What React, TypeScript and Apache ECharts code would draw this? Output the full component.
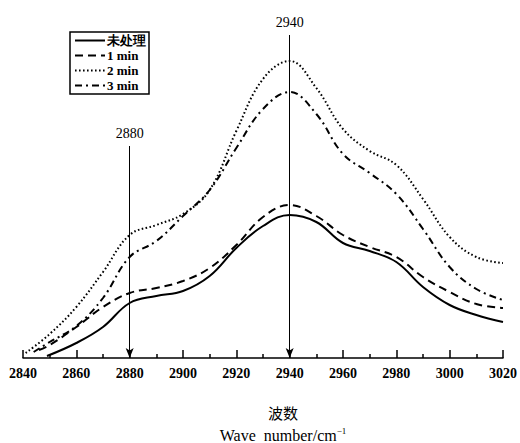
import React, { useEffect, useRef } from "react";
import * as echarts from "echarts";

const seriesNames = ["未处理", "1 min", "2 min", "3 min"];

const untreatedX = [2849, 2860, 2870, 2880, 2890, 2900, 2910, 2920, 2930, 2940, 2950, 2960, 2970, 2980, 2990, 3000, 3010, 3020];
const untreatedY = [2, 15, 31, 55, 62, 67, 82, 110, 132, 143, 136, 115, 107, 96, 71, 53, 43, 36];

const min1X = [2846, 2850, 2860, 2870, 2880, 2890, 2900, 2910, 2920, 2930, 2940, 2950, 2960, 2970, 2980, 2990, 3000, 3010, 3020];
const min1Y = [8, 13, 31, 51, 65, 70, 77, 90, 113, 141, 153, 142, 123, 111, 101, 81, 66, 54, 50];

const min2X = [2841, 2850, 2860, 2870, 2880, 2890, 2900, 2910, 2920, 2930, 2940, 2950, 2960, 2970, 2980, 2990, 3000, 3010, 3020];
const min2Y = [5, 24, 51, 86, 123, 133, 144, 168, 227, 279, 297, 270, 229, 207, 193, 159, 121, 101, 95];

const min3X = [2844, 2850, 2860, 2870, 2880, 2890, 2900, 2910, 2920, 2930, 2940, 2950, 2960, 2970, 2980, 2990, 3000, 3010, 3020];
const min3Y = [6, 16, 32, 60, 101, 117, 142, 168, 210, 249, 266, 244, 204, 185, 164, 129, 91, 69, 58];

const peakMarks = [2880, 2940];
const peakMarkTops = [212, 323];

const serif = "Liberation Serif";

function pairs(xs: number[], ys: number[]) {
  return xs.map((x, i) => [x, ys[i]]);
}

export default function App() {
  const ref = useRef<HTMLDivElement>(null);
  useEffect(() => {
    if (!ref.current) return;
    const chart = echarts.init(ref.current, null, { renderer: "svg" });
    const lineTypes: any[] = ["solid", [8, 5], [1.6, 2.4], [7, 4, 2, 4]];
    const datasets = [
      pairs(untreatedX, untreatedY),
      pairs(min1X, min1Y),
      pairs(min2X, min2Y),
      pairs(min3X, min3Y),
    ];
    const series: any[] = seriesNames.map((name, i) => ({
      name,
      type: "line",
      data: datasets[i],
      smooth: 0.4,
      symbol: "none",
      lineStyle: { color: "#000", width: 2, type: lineTypes[i] },
      itemStyle: { color: "#000" },
    }));
    series[0].markLine = {
      silent: true,
      symbol: ["none", "arrow"],
      symbolSize: [6, 10],
      lineStyle: { color: "#000", width: 1, type: "solid" },
      label: {
        show: true,
        position: "start",
        formatter: (p: any) => String(p.value),
        color: "#000",
        fontFamily: serif,
        fontSize: 14,
        distance: 6,
      },
      data: peakMarks.map((x, i) => [
        { coord: [x, peakMarkTops[i]], value: x },
        { coord: [x, 0] },
      ]),
    };
    chart.setOption({
      animation: false,
      grid: { left: 23, right: 12, top: 18, bottom: 85, containLabel: false },
      legend: {
        data: seriesNames,
        orient: "vertical",
        left: 70,
        top: 32,
        borderColor: "#000",
        borderWidth: 1.5,
        padding: [2, 3, 2, 4],
        itemGap: 2,
        itemWidth: 30,
        itemHeight: 14,
        itemStyle: { opacity: 0, color: "transparent", borderWidth: 0 },
        textStyle: { fontFamily: serif, fontWeight: "bold", fontSize: 13, color: "#000", padding: [0, 0, 0, -3] },
      },
      xAxis: {
        type: "value",
        min: 2840,
        max: 3020,
        interval: 20,
        axisLine: { show: true, lineStyle: { color: "#000", width: 1.5 } },
        axisTick: { show: true, inside: true, length: 8, lineStyle: { color: "#000", width: 1.5 } },
        minorTick: { show: true, splitNumber: 2, length: 4, lineStyle: { color: "#000", width: 1.5 } },
        splitLine: { show: false },
        axisLabel: {
          color: "#000",
          fontFamily: serif,
          fontSize: 14,
          fontWeight: "bold",
          margin: 8,
          formatter: (v: number) => String(v),
        },
      },
      yAxis: {
        type: "value",
        min: 0,
        max: 340,
        show: false,
        splitLine: { show: false },
      },
      graphic: [
        {
          type: "text",
          x: 283,
          y: 412,
          style: { text: "波数", fontFamily: "Noto Sans CJK SC", fontSize: 15, fill: "#000", align: "center", verticalAlign: "middle" },
        },
        {
          type: "text",
          x: 283,
          y: 435,
          style: {
            text: "{a|Wave  number/cm}{s|−1}",
            align: "center",
            verticalAlign: "middle",
            rich: {
              a: { fontFamily: serif, fontSize: 16, fill: "#000", color: "#000" },
              s: { fontFamily: serif, fontSize: 9, fill: "#000", color: "#000", padding: [0, 0, 9, 0] },
            },
          },
        },
      ],
      series,
    });
    return () => chart.dispose();
  }, []);
  return <div ref={ref} style={{ position: "fixed", left: 0, top: 0, width: 520, height: 443, background: "#fff" }} />;
}
